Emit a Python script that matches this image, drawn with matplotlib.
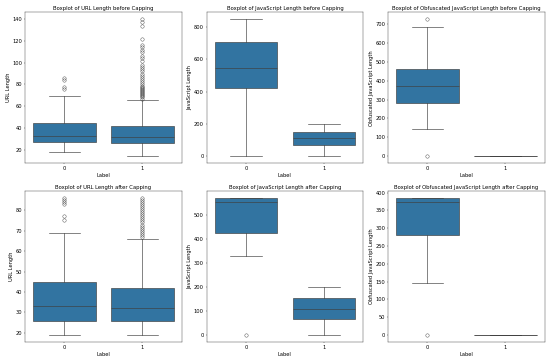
import matplotlib.pyplot as plt

labels = ["0", "1"]

# box stats: (whislo, q1, med, q3, whishi)
url_before = [(18, 27, 33, 45, 69), (14, 26, 32, 42, 66)]
url_before_fliers = [[76, 78, 84, 86],
                     [67, 68, 69, 70, 71, 72, 73, 74, 75, 76, 77, 78, 79, 80, 82, 84, 86, 88,
                      90, 92, 94, 96, 98, 102, 104, 106, 110, 112, 114, 116, 122, 134, 137, 140]]

js_before = [(0, 425, 550, 710, 850), (0, 70, 115, 150, 200)]
js_before_fliers = [[], []]

obf_before = [(145, 283, 370, 460, 685), (0, 0, 0, 0, 0)]
obf_before_fliers = [[0, 725], []]

url_after = [(19, 26, 33, 45, 69), (19, 26, 32, 42, 66)]
url_after_fliers = [[75, 77, 83, 84, 85, 86],
                    [67, 68, 69, 70, 71, 72, 73, 74, 75, 76, 77, 78, 79, 80, 81, 82, 83, 84, 85, 86]]

js_after = [(330, 425, 555, 570, 570), (0, 65, 110, 155, 200)]
js_after_fliers = [[0], []]

obf_after = [(147, 282, 373, 385, 385), (0, 0, 0, 0, 0)]
obf_after_fliers = [[0], []]

panels = [
    ("Boxplot of URL Length before Capping", "URL Length", url_before, url_before_fliers),
    ("Boxplot of JavaScript Length before Capping", "JavaScript Length", js_before, js_before_fliers),
    ("Boxplot of Obfuscated JavaScript Length before Capping", "Obfuscated JavaScript Length",
     obf_before, obf_before_fliers),
    ("Boxplot of URL Length after Capping", "URL Length", url_after, url_after_fliers),
    ("Boxplot of JavaScript Length after Capping", "JavaScript Length", js_after, js_after_fliers),
    ("Boxplot of Obfuscated JavaScript Length after Capping", "Obfuscated JavaScript Length",
     obf_after, obf_after_fliers),
]

BOX = "#3274a1"
LINE = "#3f3f3f"

plt.rcParams["font.size"] = 12
plt.rcParams["axes.titlesize"] = 12.5


def make_stats(boxes, fliers):
    out = []
    for (lo, q1, med, q3, hi), fl in zip(boxes, fliers):
        out.append({"whislo": lo, "q1": q1, "med": med, "q3": q3, "whishi": hi, "fliers": fl})
    return out


fig, axes = plt.subplots(2, 3, figsize=(18, 11.88))

for ax, (title, ylabel, boxes, fliers) in zip(axes.flat, panels):
    ax.bxp(make_stats(boxes, fliers), positions=[0, 1], widths=0.8, capwidths=0.4,
           patch_artist=True,
           boxprops=dict(facecolor=BOX, edgecolor=LINE, linewidth=1.5),
           whiskerprops=dict(color=LINE, linewidth=1.5),
           capprops=dict(color=LINE, linewidth=1.5),
           medianprops=dict(color=LINE, linewidth=1.5),
           flierprops=dict(marker="o", markerfacecolor="none", markeredgecolor=LINE,
                           markersize=8, linewidth=0))
    ax.set_xlim(-0.5, 1.5)
    ax.set_xticks([0, 1])
    ax.set_xticklabels(labels)
    ax.set_title(title)
    ax.set_xlabel("Label")
    ax.set_ylabel(ylabel)

plt.tight_layout()
plt.savefig("out.png", dpi=550 / 18)
